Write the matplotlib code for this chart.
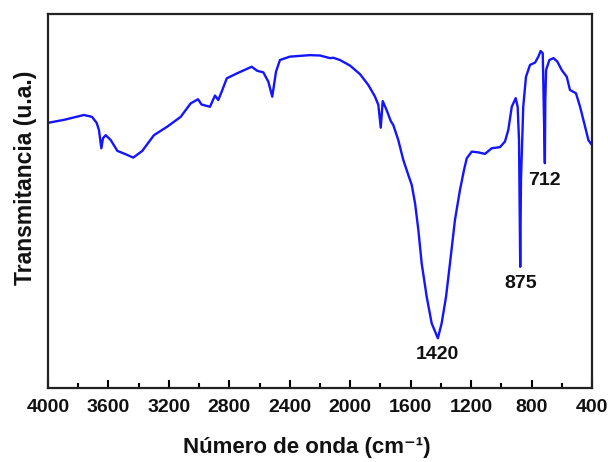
import matplotlib
matplotlib.use("Agg")
import matplotlib.pyplot as plt
from matplotlib.ticker import MultipleLocator

plt.rcParams['font.family'] = ['Liberation Sans', 'DejaVu Sans']
plt.rcParams['font.weight'] = 'bold'

wavenumber = [4000, 3894, 3762, 3709, 3678, 3663, 3647, 3636, 3618, 3585,
              3541, 3486, 3436, 3376, 3299, 3210, 3122, 3056, 3007, 2984,
              2928, 2895, 2873, 2851, 2817, 2751, 2652, 2615, 2575, 2542,
              2516, 2491, 2465, 2399, 2266, 2200, 2134, 2112, 2068, 2001,
              1935, 1880, 1836, 1814, 1798, 1785, 1759, 1732, 1715, 1682,
              1649, 1616, 1593, 1571, 1549, 1527, 1494, 1461, 1420, 1395,
              1366, 1340, 1307, 1274, 1247, 1229, 1196, 1152, 1108, 1064,
              1009, 976, 954, 931, 905, 892, 883, 875, 870, 855,
              837, 810, 777, 755, 740, 726, 720, 712, 709, 704,
              682, 655, 630, 600, 567, 546, 506, 479, 446, 424,
              409, 400]
transmittance = [70.9, 71.7, 73.0, 72.5, 70.9, 69.0, 64.1, 66.8, 67.6, 66.3,
                 63.4, 62.5, 61.6, 63.4, 67.6, 69.9, 72.5, 76.1, 77.2, 75.8,
                 75.2, 78.2, 77.0, 79.2, 82.8, 84.1, 85.9, 84.8, 84.4, 81.9,
                 77.9, 84.6, 87.7, 88.6, 89.0, 88.9, 88.2, 88.3, 87.7, 86.2,
                 83.9, 81.0, 77.9, 75.7, 69.6, 76.7, 74.3, 71.4, 70.3, 66.3,
                 61.0, 57.0, 54.3, 49.4, 42.2, 33.3, 24.4, 17.3, 13.3, 17.3,
                 24.4, 33.3, 44.9, 52.9, 58.3, 61.4, 63.2, 63.0, 62.6, 64.1,
                 64.4, 65.9, 69.0, 75.2, 77.5, 75.2, 66.3, 32.4, 55.6, 75.2,
                 83.2, 86.4, 87.0, 88.6, 90.1, 89.5, 77.0, 60.1, 77.0, 85.0,
                 87.7, 88.2, 87.3, 85.0, 83.2, 79.7, 78.8, 75.2, 69.9, 66.3,
                 65.4, 65.0]

tick_values = [4000, 3600, 3200, 2800, 2400, 2000, 1600, 1200, 800, 400]
tick_labels = ["4000", "3600", "3200", "2800", "2400", "2000", "1600", "1200", "800", "400"]

peak_labels = ["1420", "875", "712"]
peak_wn = [1420, 875, 712]
peak_label_T = [9.0, 28.0, 55.5]

fig = plt.figure(figsize=(6.08, 4.62), dpi=100)
ax = fig.add_axes([48/608, 1-388/462, 544/608, 374/462])

ax.plot(wavenumber, transmittance, color='#1414ff', lw=1.7,
        solid_joinstyle='round')

ax.set_xlim(4000, 400)
ax.set_ylim(0, 100)
ax.xaxis.set_minor_locator(MultipleLocator(200))
ax.set_xticks(tick_values)
ax.set_xticklabels(tick_labels)
ax.tick_params(axis='x', which='major', direction='in', length=6, width=1.5,
               labelsize=14, pad=8, top=False, labelcolor='#111111')
ax.tick_params(axis='x', which='minor', direction='in', length=3.5, width=1.5, top=False)
ax.set_yticks([])
for s in ax.spines.values():
    s.set_linewidth(1.6)
    s.set_color('#222222')

for lab, wn, t in zip(peak_labels, peak_wn, peak_label_T):
    ax.text(wn, t, lab, ha='center', va='center', fontsize=14, fontweight='bold', color='#111111')

fig.text(307/608, 1-448/462, "Número de onda (cm\u207b\u00b9)", ha='center', va='center',
         fontsize=16, fontweight='bold', color='#111111',
         family=['Liberation Sans', 'DejaVu Sans'])
fig.text(26/608, 1-178/462, "Transmitancia (u.a.)", ha='center', va='center', rotation=90,
         fontsize=16.5, fontweight='bold', color='#111111')

fig.savefig("out.png", dpi=100)
